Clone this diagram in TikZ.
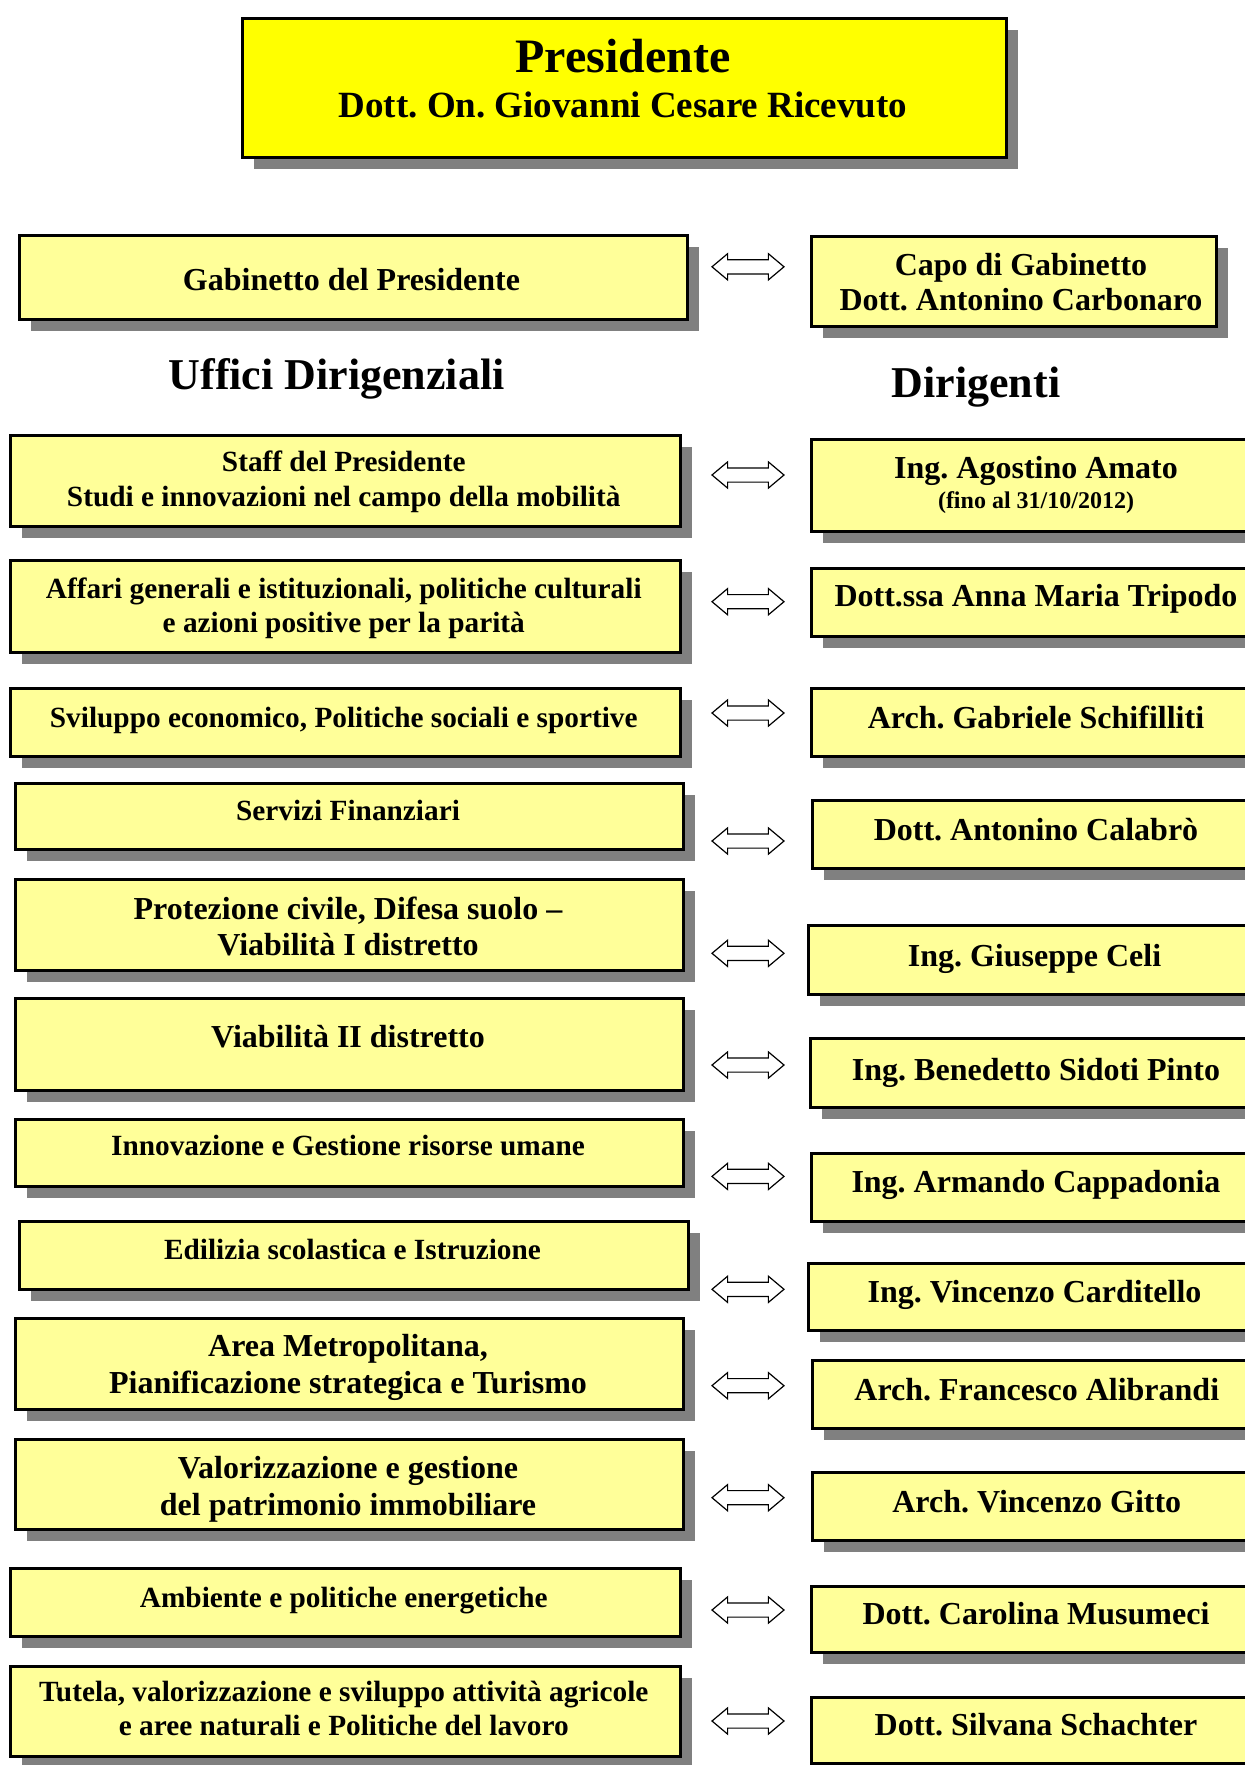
\documentclass[tikz,border=0pt]{standalone}
\usepackage{fontspec}
\setmainfont{Liberation Serif}
\usetikzlibrary{shapes.arrows}
\definecolor{boxyellow}{HTML}{FFFF99}
\definecolor{titleyellow}{HTML}{FFFF00}
\definecolor{shadowgray}{HTML}{808080}
\frenchspacing
\tikzset{
  ubox/.style={draw=black, line width=3pt, fill=boxyellow, inner sep=0pt, anchor=north west,
    preaction={fill=shadowgray, transform canvas={xshift=11.5pt, yshift=-11.5pt}}},
  tbox/.style={ubox, fill=titleyellow},
  dbl/.style={double arrow, draw=black, line width=1.2pt, fill=white, minimum height=72pt,
    minimum width=1pt, inner xsep=0pt, inner ysep=6.5pt, double arrow head extend=6pt,
    double arrow tip angle=80},
  ta/.style={font=\bfseries\fontsize{29.3}{35}\selectfont, anchor=base, inner sep=0pt},
  tb/.style={font=\bfseries\fontsize{32}{38}\selectfont, anchor=base, inner sep=0pt},
  tsmall/.style={font=\bfseries\fontsize{24}{28}\selectfont, anchor=base, inner sep=0pt},
  thead/.style={font=\bfseries\fontsize{44}{50}\selectfont, anchor=base, inner sep=0pt},
  ttitle/.style={font=\bfseries\fontsize{48}{54}\selectfont, anchor=base, inner sep=0pt},
  tsub/.style={font=\bfseries\fontsize{37}{42}\selectfont, anchor=base, inner sep=0pt},
}
\newcommand\bx[6][ubox]{\node[#1, minimum width={#5pt-#3pt-3pt}, minimum height={#6pt-#4pt-3pt}] (#2) at ({#3+1.5},{#4+1.5}) {};}
\begin{document}
\begin{tikzpicture}[x=1pt, y=-1pt]
\useasboundingbox (0,0) rectangle (1245,1765);
\clip (0,0) rectangle (1245,1765);
% title
\bx[tbox]{pres}{239}{15}{1006}{157}
\node[ttitle] (tpres1) at (623,72) {Presidente};
\node[tsub] (tpres2) at (623,117) {Dott. On. Giovanni Cesare Ricevuto};
% row 0
\bx{gab}{16}{232}{687}{319}
\node[tb] (tgab) at (351.5,290) {Gabinetto del Presidente};
\bx{capo}{808}{233}{1216}{326}
\node[tb] (tcapo1) at (1021,275) {Capo di Gabinetto};
\node[tb] (tcapo2) at (1021,310) {Dott. Antonino Carbonaro};
\node[dbl] (a0) at (748,266.8) {};
% headings
\node[thead] (hu) at (336.6,389) {Uffici Dirigenziali};
\node[thead] (hd) at (976,397) {Dirigenti};
% row 1
\bx{l1}{7.5}{432}{680}{526}
\node[ta] (tl1a) at (343.75,471.5) {Staff del Presidente};
\node[ta] (tl1b) at (343.75,506) {Studi e innovazioni nel campo della mobilità};
\bx{r1}{808}{436}{1270}{531}
\node[tb] (tr1a) at (1036,478.3) {Ing. Agostino Amato};
\node[tsmall] (tr1b) at (1036,508) {(fino al 31/10/2012)};
\node[dbl] (a1) at (748,475) {};
% row 2
\bx{l2}{7.5}{557}{680}{652}
\node[ta] (tl2a) at (343.75,598) {Affari generali e istituzionali, politiche culturali};
\node[ta] (tl2b) at (343.75,632) {e azioni positive per la parità};
\bx{r2}{808}{565}{1270}{636}
\node[tb] (tr2) at (1036,606.7) {Dott.ssa Anna Maria Tripodo};
\node[dbl] (a2) at (748,601.7) {};
% row 3
\bx{l3}{7.5}{685}{680}{756}
\node[ta] (tl3) at (343.75,727) {Sviluppo economico, Politiche sociali e sportive};
\bx{r3}{808}{685}{1270}{756}
\node[tb] (tr3) at (1036,728) {Arch. Gabriele Schifilliti};
\node[dbl] (a3) at (748,713) {};
% row 4
\bx{l4}{12.5}{780}{683.5}{849}
\node[ta] (tl4) at (348,820) {Servizi Finanziari};
\bx{r4}{809}{797}{1270}{868}
\node[tb] (tr4) at (1036,840) {Dott. Antonino Calabrò};
\node[dbl] (a4) at (748,841) {};
% row 5
\bx{l5}{12.5}{876}{683.5}{970}
\node[tb] (tl5a) at (348,919) {Protezione civile, Difesa suolo –};
\node[tb] (tl5b) at (348,955.5) {Viabilità I distretto};
\bx{r5}{805}{922}{1270}{994}
\node[tb] (tr5) at (1034.5,966.7) {Ing. Giuseppe Celi};
\node[dbl] (a5) at (748,953.3) {};
% row 6
\bx{l6}{12.5}{995}{683.5}{1090}
\node[tb] (tl6) at (348,1047.5) {Viabilità II distretto};
\bx{r6}{807}{1035}{1270}{1107}
\node[tb] (tr6) at (1036,1080.4) {Ing. Benedetto Sidoti Pinto};
\node[dbl] (a6) at (748,1065) {};
% row 7
\bx{l7}{12.5}{1116}{683.5}{1186}
\node[ta] (tl7) at (348,1155.5) {Innovazione e Gestione risorse umane};
\bx{r7}{808}{1150}{1270}{1221}
\node[tb] (tr7) at (1036,1192.6) {Ing. Armando Cappadonia};
\node[dbl] (a7) at (748,1176.4) {};
% row 8
\bx{l8}{16.7}{1218}{688.3}{1289}
\node[ta] (tl8) at (352.5,1259.3) {Edilizia scolastica e Istruzione};
\bx{r8}{805}{1260}{1270}{1330}
\node[tb] (tr8) at (1034.5,1302) {Ing. Vincenzo Carditello};
\node[dbl] (a8) at (748,1289.3) {};
% row 9
\bx{l9}{12.5}{1315}{683.5}{1409}
\node[tb] (tl9a) at (348,1356) {Area Metropolitana,};
\node[tb] (tl9b) at (348,1393.3) {Pianificazione strategica e Turismo};
\bx{r9}{809}{1357}{1270}{1428}
\node[tb] (tr9) at (1036.8,1400) {Arch. Francesco Alibrandi};
\node[dbl] (a9) at (748,1385.7) {};
% row 10
\bx{l10}{12.5}{1436}{683.5}{1529}
\node[tb] (tl10a) at (348,1478.3) {Valorizzazione e gestione};
\node[tb] (tl10b) at (348,1515) {del patrimonio immobiliare};
\bx{r10}{809}{1469}{1270}{1540}
\node[tb] (tr10) at (1036.8,1512) {Arch. Vincenzo Gitto};
\node[dbl] (a10) at (748,1497.7) {};
% row 11
\bx{l11}{7.5}{1565}{680}{1636}
\node[ta] (tl11) at (343.75,1607) {Ambiente e politiche energetiche};
\bx{r11}{808}{1583}{1270}{1652}
\node[tb] (tr11) at (1036,1624) {Dott. Carolina Musumeci};
\node[dbl] (a11) at (748,1610) {};
% row 12
\bx{l12}{7.5}{1663}{680}{1756}
\node[ta] (tl12a) at (343.75,1701.5) {Tutela, valorizzazione e sviluppo attività agricole};
\node[ta] (tl12b) at (343.75,1735.4) {e aree naturali e Politiche del lavoro};
\bx{r12}{808}{1694}{1270}{1763}
\node[tb] (tr12) at (1036,1735) {Dott. Silvana Schachter};
\node[dbl] (a12) at (748,1721) {};
\end{tikzpicture}
\end{document}
